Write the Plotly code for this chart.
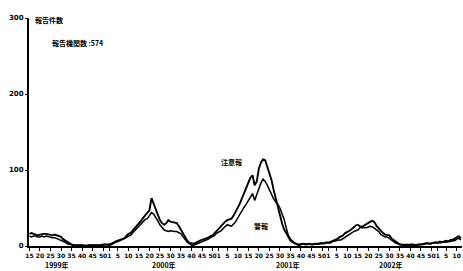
import plotly.graph_objects as go

# week index (0 = 1999 week 1; 52 weeks per year)
week_index = list(range(14, 220))

series_a = [16,17,16,15,14,15,16,16,16,15,15,14,15,14,13,12,9,7,5,3,2,
            1,1,1,1,1,0,1,1,1,1,1,1,1,1,2,2,2,
            2,3,5,6,7,8,10,10,13,16, 17,20,24,27,30,33,37,40,43,47,
            63,55,47,40,34,30,28,30,34,32, 31,31,30,26,21,15,11,7,4,3,
            3,4,6,7,8,9,9,11,13,14, 17,20,23,
            27,30,32,34,35,36,40,45,51,56, 63,70,77,84,90,93,80,85,102,110,
            114,113,104,96,87,74,62,53,39,30, 22,17,12,7,5,3,2,1,
            2,3,2,3,3,2,3,3,3,4, 4,3,5,4,5,7,8,9,11,12,
            14,17,18,20,22,25,27,28,26,24, 27,29,30,32,33,31,26,23,19,17,
            15,14,14,10,8,5,3,2,2,1, 2,1,2,2,1,2,2,2,3,4,
            4,3,4,5,5,4,6,5,6,7, 6,8,8,10,12,13,10]

series_b = [13,12,13,13,12,12,13,12,13,12,12,11,11,10,9,7,6,5,3,2,1,
            1,1,0,1,1,1,0,1,1,1,1,1,1,1,1,2,1,
            1,2,4,5,6,7,8,9,11,13, 14,17,20,24,27,29,32,35,36,40,
            44,42,38,33,28,24,21,20,19,20, 19,19,19,18,16,12,8,5,3,1,
            1,2,4,5,6,7,7,9,11,12, 14,17,18,
            20,23,26,28,27,26,29,32,37,42, 46,51,55,60,64,69,60,68,77,83,
            88,85,80,74,66,62,58,55,50,43, 35,24,14,9,6,4,3,2,
            3,3,3,2,3,2,2,3,2,3, 3,4,4,5,4,6,7,7,8,8,
            10,12,14,16,18,19,20,21,24,26, 24,24,25,26,25,23,21,19,15,13,
            12,12,10,7,5,4,3,2,1,2, 1,2,1,1,2,1,2,2,2,3,
            3,3,3,4,4,5,4,5,5,5, 6,6,7,7,9,10,8]

tick_vals = [14, 19, 24, 29, 34, 39, 44, 49,
             52, 56, 61, 66, 71, 76, 81, 86, 91, 96, 101,
             104, 108, 113, 118, 123, 128, 133, 138, 143, 148, 153,
             156, 160, 165, 170, 175, 180, 185, 190, 195, 200, 205,
             208, 212, 217]
tick_text = ["15", "20", "25", "30", "35", "40", "45", "50",
             "1", "5", "10", "15", "20", "25", "30", "35", "40", "45", "50",
             "1", "5", "10", "15", "20", "25", "30", "35", "40", "45", "50",
             "1", "5", "10", "15", "20", "25", "30", "35", "40", "45", "50",
             "1", "5", "10"]

year_labels = ["1999年", "2000年", "2001年", "2002年"]
year_label_pos = [27, 78, 137, 186]

y_ticks = [0, 100, 200, 300]

FONT = "Noto Sans CJK JP"
TICK_FONT = "Liberation Sans Narrow, DejaVu Sans, sans-serif"

fig = go.Figure()
fig.add_trace(go.Scatter(x=week_index, y=series_a, mode="lines",
                         line=dict(color="black", width=1.9), name="注意報"))
fig.add_trace(go.Scatter(x=week_index, y=series_b, mode="lines",
                         line=dict(color="black", width=1.5), name="警報"))

fig.update_layout(
    width=463, height=271,
    margin=dict(l=29, r=1, t=18, b=25),
    paper_bgcolor="white", plot_bgcolor="white",
    showlegend=False,
    font=dict(family=FONT, color="black", size=7),
)
fig.update_xaxes(range=[13.8, 219.5], tickvals=tick_vals, ticktext=tick_text,
                 tickangle=0,
                 showline=True, linecolor="black", linewidth=2,
                 ticks="outside", ticklen=3, tickcolor="black", tickwidth=1,
                 showgrid=False, zeroline=False,
                 tickfont=dict(family=TICK_FONT, size=6, color="black", weight="bold"))
fig.update_yaxes(range=[0, 300], tickvals=y_ticks, ticktext=[str(v) for v in y_ticks],
                 showline=True, linecolor="black", linewidth=2,
                 ticks="outside", ticklen=2, tickcolor="black",
                 showgrid=False, zeroline=False,
                 tickfont=dict(family=TICK_FONT, size=7, color="black", weight="bold"))

ann_font = dict(family=FONT, size=7, color="black", weight="bold")
fig.add_annotation(text="報告件数", xref="paper", yref="paper", x=0.009, y=0.992,
                   xanchor="left", yanchor="middle", showarrow=False, font=ann_font)
fig.add_annotation(text="報告機関数 :574", xref="paper", yref="paper", x=0.048, y=0.89,
                   xanchor="left", yanchor="middle", showarrow=False, font=ann_font)
fig.add_annotation(text="注意報", xref="x", yref="y", x=109.8, y=110,
                   showarrow=False, font=ann_font)
fig.add_annotation(text="警報", xref="x", yref="y", x=124, y=26,
                   showarrow=False, font=ann_font)
for lab, pos in zip(year_labels, year_label_pos):
    fig.add_annotation(text=lab, xref="x", yref="paper", x=pos, y=-0.085,
                       showarrow=False, yanchor="middle", font=ann_font)

fig.write_html("out.html", config={"displayModeBar": False},
               post_script="document.body.style.margin='0px';document.body.style.overflow='hidden';")
